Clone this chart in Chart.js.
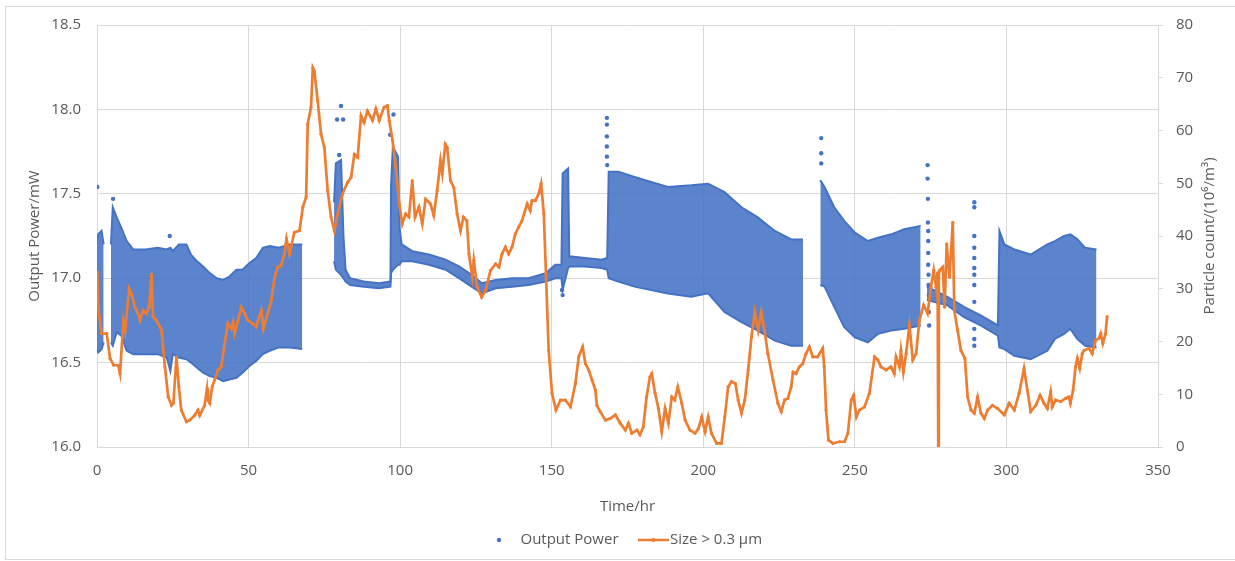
<!DOCTYPE html>
<html>
<head>
<meta charset="utf-8">
<title>Output power and particle count</title>
<script src="https://cdn.jsdelivr.net/npm/chart.js@4.4.1/dist/chart.umd.min.js"></script>
<style>
  html, body { margin: 0; padding: 0; background: #ffffff; }
  #wrap { width: 1235px; height: 561px; }
</style>
</head>
<body>
<div id="wrap"><canvas id="powerChart" width="1235" height="561"></canvas></div>
<script>
// Particle counter, size > 0.3 um (10^6 per m^3), by time in hours
const countTime = [
  0.1, 0.4, 1.5, 3.2, 4.3, 5.5, 7.0, 7.6, 8.7, 9.3, 10.6, 11.4, 12.5, 13.6, 14.2, 15.2, 16.3, 17.2, 18.0, 18.5,
  19.6, 20.7, 21.3, 22.4, 23.5, 24.6, 25.2, 26.2, 27.0, 27.8, 29.5, 30.6, 32.2, 33.3, 33.9, 35.5, 36.3, 36.6, 37.2, 38.0,
  38.8, 39.9, 41.0, 42.1, 43.2, 44.3, 44.9, 45.4, 46.5, 47.6, 48.7, 49.8, 51.4, 52.5, 54.2, 54.9, 57.5, 58.6, 59.6, 60.7,
  61.8, 62.5, 63.5, 65.1, 66.8, 67.9, 69.0, 69.5, 70.6, 71.2, 71.7, 72.8, 73.9, 75.0, 76.1, 77.2, 78.3, 79.4, 81.0, 82.7,
  83.8, 84.9, 86.0, 87.1, 88.1, 89.2, 90.9, 92.0, 93.1, 94.7, 95.8, 96.4, 97.5, 98.6, 99.7, 100.7, 101.8, 102.9, 104.0, 104.9,
  106.2, 107.3, 108.4, 110.0, 111.1, 112.2, 113.3, 113.9, 114.9, 115.5, 116.6, 117.7, 118.8, 119.9, 120.9, 122.0, 122.7, 123.8, 124.3, 125.4,
  126.9, 128.2, 129.8, 131.5, 132.6, 133.6, 134.7, 135.8, 136.9, 138.0, 139.1, 140.2, 141.9, 142.9, 143.5, 144.6, 145.7, 146.5, 147.4, 148.1,
  149.0, 150.1, 151.4, 152.9, 154.5, 156.2, 157.8, 158.9, 160.2, 161.1, 162.2, 163.3, 164.4, 164.9, 166.0, 167.7, 169.3, 171.0, 172.6, 174.3,
  175.3, 176.4, 178.1, 179.1, 180.2, 181.3, 182.4, 183.0, 184.1, 185.2, 186.3, 187.4, 188.5, 189.6, 190.6, 191.6, 192.9, 194.0, 195.6, 197.3,
  198.4, 199.5, 200.6, 201.6, 202.7, 204.4, 206.0, 207.1, 208.2, 209.3, 210.6, 211.5, 212.6, 213.7, 214.8, 215.9, 217.0, 218.1, 219.1, 220.2,
  221.3, 223.0, 224.6, 225.7, 226.8, 227.9, 229.0, 229.6, 230.6, 231.7, 232.8, 233.9, 235.0, 236.1, 237.7, 239.4, 239.9, 240.5, 241.3, 242.8,
  245.0, 246.6, 247.7, 248.8, 249.6, 250.5, 251.5, 253.2, 254.8, 256.5, 257.6, 258.6, 260.3, 261.9, 263.0, 263.6, 264.7, 265.2, 266.0, 266.9,
  268.0, 269.1, 270.2, 271.3, 272.7, 274.0, 275.1, 276.0, 276.8, 277.3, 277.5, 277.7, 278.0, 279.0, 279.6, 280.3, 281.2, 282.3, 282.8, 283.9,
  285.0, 286.3, 287.2, 288.3, 289.4, 290.5, 291.6, 292.7, 293.8, 295.4, 297.1, 299.3, 300.9, 302.6, 304.2, 305.8, 306.9, 308.0, 309.7, 311.1,
  312.4, 313.5, 314.6, 315.1, 316.2, 317.9, 319.5, 320.6, 321.1, 322.0, 322.8, 323.4, 324.2, 325.0, 325.6, 327.2, 328.3, 329.4, 330.5, 331.1,
  331.8, 332.7, 333.2
];
const countValue = [
  33.2, 26.5, 21.5, 21.5, 16.8, 15.5, 15.5, 13.9, 24.0, 22.1, 30.0, 29.0, 26.5, 25.3, 24.0, 25.9, 25.3, 26.5, 32.8, 24.7,
  24.0, 22.8, 22.1, 15.2, 9.5, 7.9, 8.3, 17.1, 11.4, 7.0, 4.8, 5.1, 6.0, 7.0, 6.0, 7.9, 11.1, 8.9, 8.3, 11.4,
  12.7, 14.6, 15.2, 19.6, 23.4, 22.4, 23.7, 21.5, 24.0, 26.5, 25.3, 24.0, 23.4, 22.8, 25.9, 22.4, 27.8, 32.2, 34.1, 34.4,
  36.6, 39.5, 36.6, 40.7, 41.0, 45.5, 47.4, 61.2, 64.4, 71.9, 71.3, 65.6, 59.3, 56.8, 48.6, 43.6, 41.0, 44.2, 48.0, 50.2,
  51.1, 55.5, 54.9, 62.8, 61.5, 63.7, 61.9, 64.1, 61.9, 64.4, 64.7, 61.9, 58.1, 53.0, 46.1, 42.3, 44.2, 43.6, 50.5, 43.6,
  45.5, 42.3, 47.0, 46.1, 43.9, 48.6, 54.3, 51.8, 57.4, 56.8, 50.5, 49.2, 44.2, 41.0, 43.6, 42.9, 36.6, 32.2, 35.4, 30.3,
  28.4, 29.7, 33.5, 34.7, 34.1, 36.6, 37.9, 36.6, 37.9, 40.4, 41.7, 42.9, 46.1, 44.8, 46.7, 46.7, 48.0, 49.9, 44.2, 32.8,
  18.3, 10.2, 7.0, 8.9, 8.9, 7.6, 12.0, 17.1, 19.0, 15.8, 14.6, 12.7, 10.8, 7.9, 6.7, 5.1, 5.4, 6.1, 4.5, 3.2,
  4.5, 2.6, 3.2, 2.3, 3.8, 9.5, 13.3, 13.9, 10.2, 7.3, 2.9, 7.3, 4.5, 9.5, 8.9, 11.4, 8.3, 5.1, 3.2, 2.6,
  3.5, 5.7, 2.9, 5.7, 2.6, 0.7, 0.7, 5.7, 11.4, 12.4, 12.0, 8.9, 6.4, 8.9, 14.6, 20.9, 25.6, 22.1, 25.6, 22.1,
  17.7, 12.7, 8.3, 6.7, 8.9, 9.2, 11.4, 14.2, 13.9, 15.2, 15.8, 17.7, 19.0, 17.1, 17.1, 18.7, 15.2, 7.0, 1.3, 0.7,
  1.0, 1.0, 2.6, 8.9, 9.8, 5.7, 7.0, 7.6, 10.2, 17.1, 16.5, 15.2, 14.6, 15.2, 13.9, 17.1, 15.2, 18.3, 14.2, 17.7,
  23.1, 16.5, 17.7, 24.0, 26.9, 25.3, 30.3, 33.5, 30.3, 33.0, 0.0, 33.0, 33.5, 34.1, 26.5, 38.5, 32.2, 42.6, 25.9, 22.1,
  18.3, 16.8, 9.5, 7.0, 6.4, 9.5, 6.4, 5.4, 7.0, 7.9, 7.3, 6.1, 8.3, 7.0, 10.2, 14.9, 10.8, 6.7, 7.9, 9.8,
  8.3, 7.3, 10.5, 7.6, 8.9, 8.6, 9.2, 9.5, 8.3, 10.8, 15.2, 16.8, 14.9, 17.7, 18.3, 18.7, 17.7, 20.2, 20.6, 21.5,
  19.6, 21.5, 24.7
];

// Output power (mW): upper and lower edge of the oscillating band, null = no readings
const bandTime = [
  0.0, 0.4, 1.5, 2.2, 3.3, 4.6, 5.2, 6.5, 8.0, 9.8, 12.0, 16.0, 20.0, 23.0, 24.2, 25.0, 27.0, 29.5, 31.0, 33.0,
  35.0, 37.2, 39.5, 41.6, 43.7, 46.0, 48.0, 50.3, 52.5, 54.7, 57.0, 60.0, 63.5, 67.7, 72.0,
  78.2, 78.8, 80.5, 81.3, 82.0, 83.5, 88.0, 93.0, 96.8, 97.0, 97.6, 99.3, 99.8, 100.5, 104.0, 109.5, 115.0, 119.4, 122.7,
  127.0, 131.5, 137.0, 142.4, 148.0, 151.2, 153.2, 153.6, 155.4, 155.8, 161.0, 166.5, 168.3, 168.8, 172.0, 177.3, 182.8, 188.3, 196.0, 201.6,
  207.0, 212.6, 218.0, 223.6, 229.0, 232.9, 236.0,
  238.6, 240.0, 243.2, 246.5, 250.0, 254.3, 257.6, 262.0, 266.3, 271.7, 272.8,
  273.8, 280.5, 286.0, 291.5, 297.2, 297.7, 299.3, 302.6, 308.0, 313.5, 316.0, 319.0, 321.1, 323.4, 326.0, 329.7
];
const bandHigh = [
  17.22, 17.26, 17.28, 17.20, null, 17.20, 17.42, 17.36, 17.30, 17.22, 17.17, 17.17, 17.18, 17.17, 17.18, 17.16, 17.20, 17.20, 17.14, 17.10,
  17.07, 17.03, 17.00, 16.99, 17.01, 17.05, 17.05, 17.09, 17.12, 17.18, 17.19, 17.18, 17.20, 17.20, null,
  17.45, 17.68, 17.70, 17.25, 17.05, 17.00, 16.98, 16.97, 16.98, 17.55, 17.78, 17.72, 17.30, 17.20, 17.16, 17.14, 17.11, 17.07, 17.03,
  16.97, 16.99, 17.00, 17.00, 17.03, 17.08, 17.08, 17.62, 17.65, 17.13, 17.12, 17.11, 17.12, 17.63, 17.63, 17.60, 17.57, 17.54, 17.55, 17.56,
  17.51, 17.42, 17.36, 17.28, 17.23, 17.23, null,
  17.58, 17.54, 17.42, 17.34, 17.27, 17.22, 17.24, 17.26, 17.29, 17.31, null,
  16.95, 16.89, 16.83, 16.78, 16.72, 17.28, 17.20, 17.17, 17.14, 17.20, 17.22, 17.25, 17.26, 17.23, 17.18, 17.17
];
const bandLow = [
  16.58, 16.56, 16.58, 16.62, null, 16.62, 16.60, 16.68, 16.66, 16.57, 16.55, 16.55, 16.55, 16.53, 16.45, 16.55, 16.53, 16.52, 16.50, 16.47,
  16.44, 16.42, 16.41, 16.39, 16.40, 16.41, 16.44, 16.48, 16.51, 16.55, 16.57, 16.59, 16.59, 16.58, null,
  17.10, 17.05, 17.02, 17.00, 16.98, 16.96, 16.95, 16.94, 16.95, 17.03, 17.05, 17.08, 17.08, 17.10, 17.10, 17.08, 17.05, 17.00, 16.96,
  16.91, 16.94, 16.95, 16.96, 16.98, 17.00, 17.00, 16.93, 17.06, 17.07, 17.07, 17.06, 17.05, 17.00, 16.98, 16.95, 16.93, 16.91, 16.89, 16.91,
  16.80, 16.74, 16.69, 16.63, 16.60, 16.60, null,
  16.96, 16.95, 16.83, 16.71, 16.65, 16.62, 16.67, 16.69, 16.70, 16.72, null,
  16.87, 16.84, 16.77, 16.72, 16.66, 16.59, 16.58, 16.54, 16.52, 16.57, 16.64, 16.67, 16.70, 16.64, 16.60, 16.59
];

// Output power readings standing apart from the band (mW)
const spikeTime = [
  0.1, 5.3, 24.0, 79.2, 79.9, 80.5, 81.2, 96.7, 97.8, 153.4, 153.6,
  168.2, 168.2, 168.2, 168.2, 168.2, 168.3,
  238.9, 238.9, 238.9,
  274.0, 274.0, 274.1, 274.1, 274.2, 274.2, 274.2, 274.2, 274.3, 274.3, 274.4, 274.4, 274.5,
  289.4, 289.4, 289.4, 289.4, 289.4, 289.4, 289.4, 289.4, 289.4, 289.4, 289.4, 289.4
];
const spikePower = [
  17.54, 17.47, 17.25, 17.94, 17.73, 18.02, 17.94, 17.85, 17.97, 16.93, 16.90,
  17.95, 17.91, 17.84, 17.78, 17.72, 17.67,
  17.83, 17.74, 17.68,
  17.67, 17.59, 17.47, 17.33, 17.28, 17.22, 17.15, 17.08, 17.02, 16.96, 16.90, 16.80, 16.72,
  17.45, 17.42, 17.25, 17.18, 17.12, 17.06, 17.02, 16.96, 16.86, 16.70, 16.64, 16.60
];

const blue = '#4472C4';
const orange = '#ED7D31';
const textColor = '#595959';
const gridColor = '#d9d9d9';

const xy = (xs, ys) => xs.map((x, i) => ({ x: x, y: ys[i] }));

// small pictures used as legend symbols
function dotSymbol() {
  const c = document.createElement('canvas');
  c.width = 16; c.height = 10;
  const g = c.getContext('2d');
  g.fillStyle = blue;
  g.beginPath();
  g.arc(3, 5, 2.2, 0, Math.PI * 2);
  g.fill();
  return c;
}
function lineSymbol() {
  const c = document.createElement('canvas');
  c.width = 31; c.height = 8;
  const g = c.getContext('2d');
  g.strokeStyle = orange;
  g.lineWidth = 2.5;
  g.beginPath();
  g.moveTo(0, 4);
  g.lineTo(31, 4);
  g.stroke();
  g.fillStyle = orange;
  g.beginPath();
  g.arc(15.5, 4, 2, 0, Math.PI * 2);
  g.fill();
  return c;
}
const dotImg = dotSymbol();
const lineImg = lineSymbol();

// white page with the thin chart frame
const frame = {
  id: 'frame',
  beforeDraw(chart) {
    const ctx = chart.ctx;
    ctx.save();
    ctx.fillStyle = '#ffffff';
    ctx.fillRect(0, 0, chart.width, chart.height);
    ctx.strokeStyle = gridColor;
    ctx.lineWidth = 1;
    ctx.strokeRect(5.5, 6.5, chart.width + 10, chart.height - 8);
    ctx.restore();
  }
};

// right axis title, reading bottom to top
const rightTitle = {
  id: 'rightTitle',
  afterDraw(chart) {
    const ctx = chart.ctx;
    const area = chart.chartArea;
    const s = chart.scales.count;
    ctx.save();
    ctx.translate(s.right - 25, (area.top + area.bottom) / 2);
    ctx.rotate(-Math.PI / 2);
    ctx.font = '15px "Open Sans"';
    ctx.fillStyle = textColor;
    ctx.textAlign = 'center';
    ctx.textBaseline = 'middle';
    ctx.fillText('Particle count/(10\u2076/m\u00B3)', 0, 0);
    ctx.restore();
  }
};

Chart.defaults.font.family = '"Open Sans", sans-serif';
Chart.defaults.font.size = 15;
Chart.defaults.color = textColor;

const ctx = document.getElementById('powerChart').getContext('2d');
const powerChart = new Chart(ctx, {
  type: 'scatter',
  data: {
    datasets: [
      {
        type: 'line',
        label: 'Size > 0.3 \u00B5m',
        data: xy(countTime, countValue),
        yAxisID: 'count',
        borderColor: orange,
        backgroundColor: orange,
        borderWidth: 2.7,
        pointRadius: 1.6,
        pointBorderWidth: 0,
        tension: 0,
        order: 0
      },
      {
        label: 'Output Power',
        data: xy(spikeTime, spikePower),
        yAxisID: 'y',
        backgroundColor: blue,
        borderWidth: 0,
        pointRadius: 2.2,
        order: 1
      },
      {
        type: 'line',
        label: '',
        data: xy(bandTime, bandHigh),
        yAxisID: 'y',
        borderColor: blue,
        borderWidth: 2,
        backgroundColor: 'rgba(68, 114, 196, 0.87)',
        pointRadius: 0,
        fill: '+1',
        spanGaps: false,
        order: 2
      },
      {
        type: 'line',
        label: '',
        data: xy(bandTime, bandLow),
        yAxisID: 'y',
        borderColor: blue,
        borderWidth: 2,
        pointRadius: 0,
        fill: false,
        spanGaps: false,
        order: 2
      }
    ]
  },
  options: {
    responsive: false,
    animation: false,
    devicePixelRatio: 1,
    layout: { padding: { left: 22, top: 25, right: 0, bottom: 3.5 } },
    scales: {
      x: {
        type: 'linear',
        min: 0,
        max: 350,
        ticks: { stepSize: 50, padding: 15 },
        grid: { color: gridColor, drawTicks: false },
        border: { display: true, color: gridColor },
        title: { display: true, text: 'Time/hr', padding: { top: 0, bottom: -9.5 } },
        afterFit: s => { s.height = 59.5; }
      },
      y: {
        position: 'left',
        min: 16,
        max: 18.5,
        ticks: { stepSize: 0.5, padding: 16, callback: v => v.toFixed(1) },
        grid: { color: gridColor, drawTicks: false },
        border: { display: false },
        title: { display: true, text: 'Output Power/mW', padding: { top: 4, bottom: 0 } },
        afterFit: s => { s.width = 75; }
      },
      count: {
        position: 'right',
        min: 0,
        max: 80,
        ticks: { stepSize: 10, padding: 13 },
        grid: { drawOnChartArea: false, drawTicks: true, tickLength: 5, color: gridColor },
        border: { display: true, color: gridColor },
        afterFit: s => { s.width = 77; }
      }
    },
    plugins: {
      legend: {
        position: 'bottom',
        labels: {
          usePointStyle: true,
          pointStyleWidth: 18,
          padding: 26,
          generateLabels: () => [
            { text: 'Output Power', pointStyle: dotImg, fontColor: textColor, fillStyle: blue, strokeStyle: blue, lineWidth: 0, hidden: false, datasetIndex: 1 },
            { text: 'Size > 0.3 \u00B5m', pointStyle: lineImg, fontColor: textColor, fillStyle: orange, strokeStyle: orange, lineWidth: 0, hidden: false, datasetIndex: 0 }
          ]
        }
      },
      tooltip: { enabled: false }
    }
  },
  plugins: [frame, rightTitle]
});
</script>
</body>
</html>
